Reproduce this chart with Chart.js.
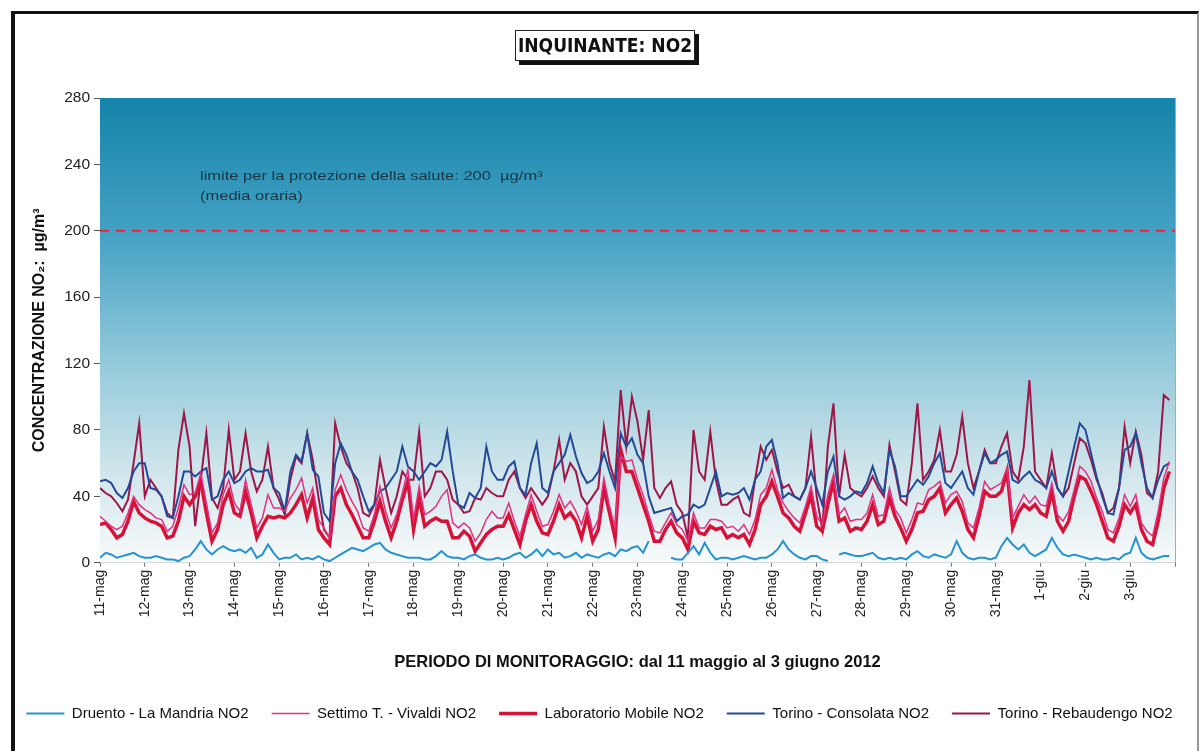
<!DOCTYPE html>
<html lang="it">
<head>
<meta charset="UTF-8">
<title>Inquinante NO2</title>
<script src="https://cdn.jsdelivr.net/npm/chart.js"></script>
<style>
  body { margin: 0; background: #fff; font-family: "Liberation Sans", Arial, sans-serif; }
  #wrap { position: relative; width: 1199px; height: 751px; overflow: hidden; }
  #frame { position: absolute; left: 11px; top: 11px; width: 1182px; height: 760px;
           border-top: 3px solid #111; border-left: 4px solid #111; border-right: 2px solid #999; }
  #titolo { position: absolute; left: 515px; top: 30px; width: 178px; height: 29px;
            border: 1px solid #222; background: #fff; box-shadow: 4px 4px 0 #111;
            font: bold 19px "Liberation Sans Narrow", "DejaVu Sans Condensed", Arial, sans-serif;
            line-height: 29px; text-align: center; color: #111; }
  canvas { position: absolute; left: 0; top: 0; }
</style>
</head>
<body>
<div id="wrap">
  <div id="frame"></div>
  <canvas id="grafico" width="1199" height="751"></canvas>
  <div id="titolo">INQUINANTE: NO2</div>
</div>
<script>
// giorni del periodo (una etichetta ogni 8 valori triorari)
const giorni = ["11-mag","12-mag","13-mag","14-mag","15-mag","16-mag","17-mag","18-mag","19-mag","20-mag",
  "21-mag","22-mag","23-mag","24-mag","25-mag","26-mag","27-mag","28-mag","29-mag","30-mag","31-mag",
  "1-giu","2-giu","3-giu"];
const yTicks = [0, 40, 80, 120, 160, 200, 240, 280];
const limite = 200;

// valori ogni 3 ore (0,3,6,9,12,15,18,21), un giorno per riga
const druento = [
  3,6,5,3,4,5,6,4,
  3,3,4,3,2,2,1,3,
  4,8,13,8,5,8,10,8,
  7,8,6,9,3,5,11,6,
  2,3,3,5,2,3,2,4,
  2,1,3,5,7,9,8,7,
  9,11,12,8,6,5,4,3,
  3,3,2,2,4,7,4,3,
  3,2,4,5,3,2,2,3,
  2,3,5,6,3,5,8,4,
  8,5,6,3,4,6,3,5,
  4,3,5,6,4,8,7,9,
  10,6,13,null,null,null,3,2,
  2,6,10,5,12,6,2,3,
  3,2,3,4,3,2,3,3,
  5,8,13,8,5,3,2,4,
  4,2,1,null,5,6,5,4,
  4,5,6,3,2,3,2,3,
  2,5,7,4,3,5,4,3,
  5,13,6,3,2,3,3,2,
  3,10,15,11,8,11,6,4,
  6,8,15,9,5,4,5,4,
  3,2,3,2,2,3,2,5,
  6,15,6,3,2,3,4,4
];
const settimo = [
  28,25,22,20,22,30,40,35,
  32,30,27,26,19,22,33,47,
  41,42,54,36,18,24,41,50,
  36,31,50,35,21,27,41,33,
  33,31,39,44,51,36,45,26,
  21,15,44,53,44,37,31,21,
  19,29,46,31,21,29,42,56,
  26,46,29,31,34,40,44,24,
  21,24,21,13,18,26,31,27,
  27,36,25,16,29,41,31,22,
  23,31,41,33,37,31,23,34,
  19,26,51,34,21,64,61,62,
  50,41,29,19,18,24,30,23,
  20,13,30,21,21,26,26,25,
  21,22,19,23,17,26,41,45,
  56,44,36,31,27,24,34,46,
  28,23,41,53,29,33,25,26,
  26,30,41,28,29,45,32,27,
  18,26,36,35,44,46,49,36,
  41,43,37,24,21,33,49,44,
  46,48,57,27,34,41,36,40,
  35,34,48,29,25,31,44,58,
  55,49,39,31,20,18,27,41,
  34,41,24,19,16,31,51,61
];
const labMobile = [
  23,24,20,15,17,25,37,30,
  27,25,24,22,15,16,25,40,
  35,40,49,30,13,20,35,43,
  30,28,43,30,15,22,28,27,
  28,27,30,35,41,27,39,20,
  15,11,40,45,35,29,22,15,
  15,25,37,25,15,25,38,49,
  20,39,22,25,27,25,25,15,
  15,19,16,7,12,17,20,22,
  22,29,20,11,25,35,25,18,
  17,25,35,27,30,25,15,28,
  13,20,45,30,15,68,55,55,
  45,35,25,13,13,20,25,18,
  15,8,25,18,17,22,20,21,
  15,17,15,17,11,20,35,40,
  49,40,30,27,22,19,30,41,
  22,19,35,49,25,27,19,21,
  20,25,35,23,25,39,28,21,
  13,20,30,31,38,40,45,30,
  35,39,31,20,15,28,43,40,
  40,43,55,21,30,35,32,35,
  30,28,43,25,19,25,40,52,
  50,43,35,25,15,13,22,35,
  30,35,20,13,11,25,45,55
];
const consolata = [
  49,50,48,42,39,45,55,60,
  60,45,44,40,28,27,40,55,
  55,52,55,57,38,40,50,55,
  48,50,55,57,55,55,56,45,
  42,31,55,65,61,78,56,52,
  30,25,60,72,65,55,50,40,
  31,35,43,45,50,55,70,58,
  55,50,55,60,58,62,79,55,
  35,33,42,39,45,70,55,50,
  50,58,61,45,41,60,72,45,
  42,55,60,65,77,64,54,48,
  50,55,66,55,45,78,70,75,
  65,60,40,30,31,32,33,25,
  28,29,35,33,35,45,55,40,
  42,41,42,45,38,50,55,70,
  74,60,39,42,40,38,45,55,
  45,35,55,64,40,38,40,43,
  42,48,58,48,42,68,58,40,
  40,45,50,47,52,60,66,48,
  45,50,55,45,41,55,66,60,
  62,65,67,50,48,52,55,50,
  48,45,55,45,40,55,70,84,
  80,66,52,40,30,29,45,68,
  70,78,60,45,39,50,58,60
];
const rebaudengo = [
  45,42,40,36,31,38,60,84,
  40,50,45,40,30,27,68,90,
  70,22,50,78,39,33,45,80,
  50,55,78,55,43,50,70,45,
  38,29,50,64,60,78,62,40,
  20,15,84,70,60,55,45,30,
  28,35,62,45,30,40,55,50,
  50,79,40,45,55,55,50,38,
  35,30,31,39,38,45,42,40,
  40,50,55,45,39,45,40,35,
  40,55,74,50,60,55,40,35,
  40,45,82,60,49,104,70,100,
  85,62,92,45,39,45,49,35,
  30,15,80,55,50,79,50,35,
  35,38,40,30,28,50,70,62,
  68,55,45,47,40,38,45,76,
  40,20,70,96,40,65,45,42,
  40,45,52,45,40,71,55,38,
  35,60,96,50,55,62,80,55,
  55,65,88,60,45,55,68,60,
  60,70,78,55,50,70,110,55,
  50,45,66,45,40,45,60,75,
  72,62,50,42,30,33,45,82,
  60,79,65,42,39,55,101,98
];

const punti = arr => arr.map((v, i) => ({ x: i, y: v }));
const font = '"Liberation Sans", Arial, sans-serif';

const sfondo = {
  id: 'sfondo',
  beforeDatasetsDraw(chart) {
    const { ctx, chartArea: a } = chart;
    const g = ctx.createLinearGradient(0, a.top, 0, a.bottom);
    g.addColorStop(0, 'rgb(20,132,170)');
    g.addColorStop(0.3, 'rgb(70,162,196)');
    g.addColorStop(0.55, 'rgb(142,199,217)');
    g.addColorStop(0.8, 'rgb(207,229,235)');
    g.addColorStop(1, 'rgb(248,250,250)');
    ctx.save();
    ctx.fillStyle = g;
    ctx.fillRect(a.left, a.top, a.right - a.left, a.bottom - a.top);
    ctx.strokeStyle = '#aaa';
    ctx.lineWidth = 1;
    ctx.beginPath();
    ctx.moveTo(a.right + 0.5, a.top);
    ctx.lineTo(a.right + 0.5, a.bottom);
    ctx.stroke();
    ctx.restore();
  },
  afterDatasetsDraw(chart) {
    const { ctx, chartArea: a } = chart;
    ctx.save();
    ctx.fillStyle = '#1d3440';
    ctx.font = '13px ' + font;
    ctx.translate(a.left + 100, a.top);
    ctx.scale(1.27, 1);
    ctx.fillText('limite per la protezione della salute: 200  µg/m³', 0, 78);
    ctx.fillText('(media oraria)', 0, 98);
    ctx.restore();
  }
};

new Chart(document.getElementById('grafico'), {
  type: 'line',
  data: {
    datasets: [
      { label: 'Druento - La Mandria NO2', data: punti(druento), borderColor: 'rgb(38,146,206)', borderWidth: 2 },
      { label: 'Settimo T. - Vivaldi NO2', data: punti(settimo), borderColor: 'rgb(226,48,128)', borderWidth: 1.5 },
      { label: 'Laboratorio Mobile NO2', data: punti(labMobile), borderColor: 'rgb(214,18,56)', borderWidth: 3.5 },
      { label: 'Torino - Consolata NO2', data: punti(consolata), borderColor: 'rgb(36,74,150)', borderWidth: 2 },
      { label: 'Torino - Rebaudengo NO2', data: punti(rebaudengo), borderColor: 'rgb(158,22,72)', borderWidth: 2 },
      { label: 'limite', data: [{ x: 0, y: limite }, { x: giorni.length * 8, y: limite }],
        borderColor: 'rgb(232,36,60)', borderWidth: 2, borderDash: [9, 7] }
    ]
  },
  options: {
    responsive: false,
    animation: false,
    parsing: false,
    elements: { point: { radius: 0 }, line: { tension: 0 } },
    layout: { padding: { left: 0, top: 98, right: 0, bottom: 20 } },
    plugins: {
      tooltip: { enabled: false },
      legend: {
        position: 'bottom',
        labels: {
          filter: item => item.text !== 'limite',
          usePointStyle: true,
          pointStyle: 'line',
          pointStyleWidth: 38,
          boxHeight: 15,
          padding: 23,
          color: '#111',
          font: { size: 15, family: font }
        }
      }
    },
    scales: {
      x: {
        type: 'linear',
        min: 0,
        max: giorni.length * 8,
        grid: { drawOnChartArea: false, tickLength: 4, color: '#777' },
        border: { color: '#777' },
        ticks: {
          stepSize: 8,
          autoSkip: false,
          minRotation: 90,
          maxRotation: 90,
          color: '#222',
          font: { size: 14, family: font },
          callback: v => giorni[v / 8] || ''
        },
        title: {
          display: true,
          text: 'PERIODO DI MONITORAGGIO: dal 11 maggio al 3 giugno 2012',
          color: '#111',
          font: { size: 16.5, weight: 'bold', family: font },
          padding: { top: 32, bottom: 11 }
        }
      },
      y: {
        min: 0,
        max: 280,
        afterBuildTicks: s => { s.ticks = yTicks.map(v => ({ value: v })); },
        afterFit: s => { s.width = 100; },
        grid: { drawOnChartArea: false, tickLength: 6, color: '#555' },
        border: { color: '#555' },
        ticks: {
          color: '#222',
          padding: 4,
          font: { size: 15.5, family: font }
        },
        title: {
          display: true,
          text: 'CONCENTRAZIONE NO₂:  µg/m³',
          color: '#111',
          font: { size: 16, weight: 'bold', family: font },
          padding: { top: 30, bottom: 0 }
        }
      },
      destra: {
        position: 'right',
        display: true,
        grid: { display: false },
        border: { display: false },
        ticks: { display: false },
        afterFit: s => { s.width = 24; }
      }
    }
  },
  plugins: [sfondo]
});
</script>
</body>
</html>
